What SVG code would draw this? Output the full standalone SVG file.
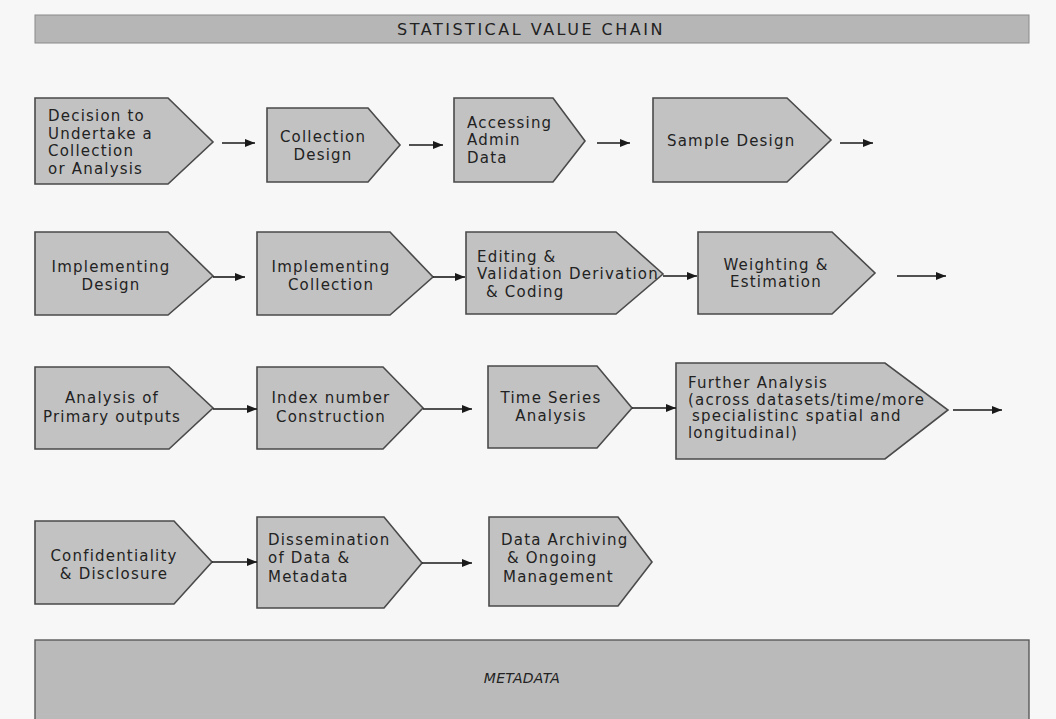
<svg xmlns="http://www.w3.org/2000/svg" width="1056" height="719" viewBox="0 0 1056 719">
<defs>
<marker id="ah" markerWidth="10" markerHeight="8" refX="10" refY="4" orient="auto" markerUnits="userSpaceOnUse">
<path d="M0,0 L10,4 L0,8 Z" fill="#1a1a1a"/>
</marker>
<style>
.box{fill:#c2c2c2;stroke:#4a4a4a;stroke-width:1.6}
.t{font-family:"DejaVu Sans","Noto Sans",sans-serif;font-size:15px;fill:#222;letter-spacing:1.2px}
.c{text-anchor:middle}
.con line{stroke:#1a1a1a;stroke-width:1.6;marker-end:url(#ah)}
.band{fill:#b6b6b6;stroke:#8a8a8a;stroke-width:1}
.bt{font-family:"DejaVu Sans","Noto Sans",sans-serif;font-size:16px;fill:#222;text-anchor:middle;letter-spacing:2.5px}
.mt{font-family:"DejaVu Sans","Noto Sans",sans-serif;font-size:14px;fill:#222;text-anchor:middle;letter-spacing:0.3px;font-style:italic}
</style>
</defs>
<rect width="1056" height="719" fill="#f7f7f7"/>
<g id="header">
<rect class="band" x="35" y="15" width="994" height="28"/>
<text class="bt" x="531" y="35">STATISTICAL VALUE CHAIN</text>
</g>
<g id="n1"><polygon class="box" points="35,98 168,98 213,142 168,184 35,184"/>
<text class="t"><tspan x="48" y="121">Decision to</tspan><tspan x="48" y="139">Undertake a</tspan><tspan x="48" y="156">Collection</tspan><tspan x="48" y="174">or Analysis</tspan></text></g>
<g id="n2"><polygon class="box" points="267,108 368,108 400,145 368,182 267,182"/>
<text class="t c"><tspan x="323" y="142">Collection</tspan><tspan x="323" y="160">Design</tspan></text></g>
<g id="n3"><polygon class="box" points="454,98 553,98 585,141 553,182 454,182"/>
<text class="t"><tspan x="467" y="128">Accessing</tspan><tspan x="467" y="145">Admin</tspan><tspan x="467" y="163">Data</tspan></text></g>
<g id="n4"><polygon class="box" points="653,98 787,98 831,140 787,182 653,182"/>
<text class="t" x="667" y="146">Sample Design</text></g>
<g id="n5"><polygon class="box" points="35,232 168,232 213,276 168,315 35,315"/>
<text class="t c"><tspan x="111" y="272">Implementing</tspan><tspan x="111" y="290">Design</tspan></text></g>
<g id="n6"><polygon class="box" points="257,232 390,232 433,277 390,315 257,315"/>
<text class="t c"><tspan x="331" y="272">Implementing</tspan><tspan x="331" y="290">Collection</tspan></text></g>
<g id="n7"><polygon class="box" points="466,232 616,232 663,274 616,314 466,314"/>
<text class="t"><tspan x="477" y="262">Editing &amp;</tspan><tspan x="477" y="279">Validation Derivation</tspan><tspan x="486" y="297">&amp; Coding</tspan></text></g>
<g id="n8"><polygon class="box" points="698,232 832,232 875,273 832,314 698,314"/>
<text class="t c"><tspan x="776" y="270">Weighting &amp;</tspan><tspan x="776" y="287">Estimation</tspan></text></g>
<g id="n9"><polygon class="box" points="35,367 169,367 213,408 169,449 35,449"/>
<text class="t c"><tspan x="112" y="403">Analysis of</tspan><tspan x="112" y="422">Primary outputs</tspan></text></g>
<g id="n10"><polygon class="box" points="257,367 383,367 423,408 383,449 257,449"/>
<text class="t c"><tspan x="331" y="403">Index number</tspan><tspan x="331" y="422">Construction</tspan></text></g>
<g id="n11"><polygon class="box" points="488,366 597,366 632,408 597,448 488,448"/>
<text class="t c"><tspan x="551" y="403">Time Series</tspan><tspan x="551" y="421">Analysis</tspan></text></g>
<g id="n12"><polygon class="box" points="676,363 885,363 948,410 885,459 676,459"/>
<text class="t"><tspan x="688" y="388">Further Analysis</tspan><tspan x="688" y="405">(across datasets/time/more</tspan><tspan x="692" y="421">specialistinc spatial and</tspan><tspan x="688" y="438">longitudinal)</tspan></text></g>
<g id="n13"><polygon class="box" points="35,521 174,521 212,562 174,604 35,604"/>
<text class="t c"><tspan x="114" y="561">Confidentiality</tspan><tspan x="114" y="579">&amp; Disclosure</tspan></text></g>
<g id="n14"><polygon class="box" points="257,517 384,517 422,563 384,608 257,608"/>
<text class="t"><tspan x="268" y="545">Dissemination</tspan><tspan x="268" y="563">of Data &amp;</tspan><tspan x="268" y="582">Metadata</tspan></text></g>
<g id="n15"><polygon class="box" points="489,517 618,517 652,562 618,606 489,606"/>
<text class="t"><tspan x="501" y="545">Data Archiving</tspan><tspan x="507" y="563">&amp; Ongoing</tspan><tspan x="503" y="582">Management</tspan></text></g>
<g id="metadata">
<rect x="35" y="640" width="994" height="82" fill="#bababa" stroke="#5a5a5a" stroke-width="1.4"/>
<text class="mt" x="522" y="683">METADATA</text>
</g>
<g id="connectors" class="con">
<line x1="222" y1="143" x2="255" y2="143"/>
<line x1="409" y1="145" x2="443" y2="145"/>
<line x1="597" y1="143" x2="630" y2="143"/>
<line x1="840" y1="143" x2="873" y2="143"/>
<line x1="213" y1="277" x2="245" y2="277"/>
<line x1="433" y1="277" x2="465" y2="277"/>
<line x1="663" y1="276" x2="697" y2="276"/>
<line x1="897" y1="276" x2="946" y2="276"/>
<line x1="213" y1="409" x2="257" y2="409"/>
<line x1="423" y1="409" x2="472" y2="409"/>
<line x1="632" y1="408" x2="676" y2="408"/>
<line x1="953" y1="410" x2="1002" y2="410"/>
<line x1="212" y1="562" x2="257" y2="562"/>
<line x1="422" y1="563" x2="472" y2="563"/>
</g>
</svg>
